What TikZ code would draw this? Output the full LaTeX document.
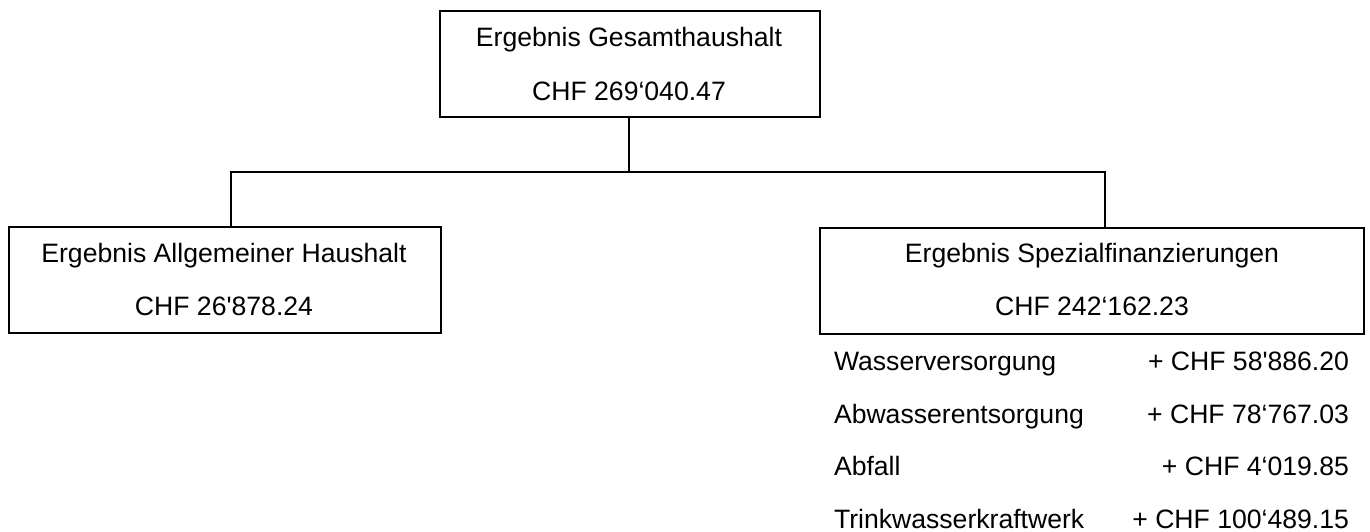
\documentclass[tikz,border=0pt]{standalone}
\usepackage{fontspec}
\setmainfont{Liberation Sans}[Ligatures=TeXOff]
\begin{document}
\begin{tikzpicture}[x=1pt,y=-1pt,
  box/.style={draw=black, line width=2pt, inner sep=0pt, outer sep=0pt},
  conn/.style={draw=black, line width=2pt},
  txt/.style={anchor=base, inner sep=0pt, outer sep=0pt, font=\fontsize{26.6}{32}\selectfont},
  ltxt/.style={txt, anchor=base west},
  rtxt/.style={txt, anchor=base east}]
\useasboundingbox (0,0) rectangle (1370,531);
% boxes
\node[box, minimum width=380pt, minimum height=106pt] (top) at (630,64) {};
\node[box, minimum width=432pt, minimum height=106pt] (left) at (224.5,280) {};
\node[box, minimum width=544pt, minimum height=106pt] (right) at (1092,280.5) {};
% box texts
\node[txt] (topA) at (629,46.7) {Ergebnis Gesamthaushalt};
\node[txt] (topB) at (629,100) {CHF 269‘040.47};
\node[txt] (leftA) at (224,262) {Ergebnis Allgemeiner Haushalt};
\node[txt] (leftB) at (224,315.3) {CHF 26'878.24};
\node[txt] (rightA) at (1092,262.3) {Ergebnis Spezialfinanzierungen};
\node[txt] (rightB) at (1092,315) {CHF 242‘162.23};
% connectors
\coordinate (jT) at (629,172.3);
\coordinate (jL) at (231,172.3);
\coordinate (jR) at (1105,172.3);
\draw[conn] (jT |- top.south) -- (jT);
\draw[conn] (jL |- left.north) -- (jL) -- (jR) -- (jR |- right.north);
% list
\node[ltxt] (l1) at (834,370) {Wasserversorgung};
\node[rtxt] (r1) at (1349,370) {+ CHF 58'886.20};
\node[ltxt] (l2) at (834,423.3) {Abwasserentsorgung};
\node[rtxt] (r2) at (1349,423.3) {+ CHF 78‘767.03};
\node[ltxt] (l3) at (834,475.5) {Abfall};
\node[rtxt] (r3) at (1349,475.5) {+ CHF 4‘019.85};
\node[ltxt] (l4) at (834,528.3) {Trinkwasserkraftwerk};
\node[rtxt] (r4) at (1349,528.3) {+ CHF 100‘489.15};
\end{tikzpicture}
\end{document}
